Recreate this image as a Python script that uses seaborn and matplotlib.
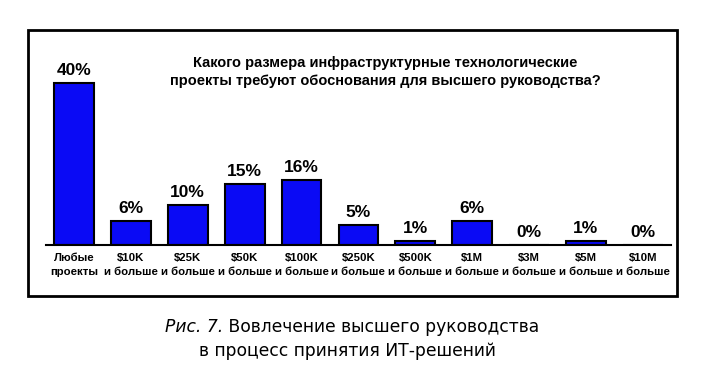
import matplotlib
matplotlib.use("Agg")
import matplotlib.pyplot as plt
import seaborn as sns
import pandas as pd
from matplotlib.patches import Rectangle

# данные с рисунка
categories = ["Любые\nпроекты", "$10K\nи больше", "$25K\nи больше", "$50K\nи больше",
              "$100K\nи больше", "$250K\nи больше", "$500K\nи больше", "$1M\nи больше",
              "$3M\nи больше", "$5M\nи больше", "$10M\nи больше"]
values = [40, 6, 10, 15, 16, 5, 1, 6, 0, 1, 0]
title_lines = ["Какого размера инфраструктурные технологические",
               "проекты требуют обоснования для высшего руководства?"]
caption_italic = "Рис. 7."
caption_rest_1 = " Вовлечение высшего руководства"
caption_line_2 = "в процесс принятия ИТ-решений"

df = pd.DataFrame({"cat": categories, "val": values})

sns.set_style("white")
plt.rcParams["font.family"] = ["Liberation Sans", "DejaVu Sans"]
plt.rcParams["text.color"] = "black"
plt.rcParams["xtick.color"] = "black"

fig = plt.figure(figsize=(7.26, 3.91), dpi=100)
ax = fig.add_axes([0.0627, 0.3734, 0.862, 0.497])

sns.barplot(data=df, x="cat", y="val", color="#0a0af5", saturation=1,
            width=0.7, edgecolor="black", linewidth=1.5, ax=ax)

ax.set_xlim(-0.5, 10.5)
ax.set_ylim(0, 48)
ax.set_xlabel("")
ax.set_ylabel("")
ax.set_yticks([])
for s in ["top", "right", "left"]:
    ax.spines[s].set_visible(False)
ax.spines["bottom"].set_linewidth(1.5)
ax.spines["bottom"].set_color("black")
ax.tick_params(axis="x", length=0, pad=6)
for lbl in ax.get_xticklabels():
    lbl.set_fontsize(8.2)
    lbl.set_fontweight("bold")
    lbl.set_color("black")
    lbl.set_linespacing(1.4)

for i, v in enumerate(values):
    ax.annotate(f"{v}%", xy=(i, v), xytext=(0, 3.5), textcoords="offset points",
                ha="center", va="bottom", fontsize=12.5, fontweight="bold")

# заголовок внутри рамки
fig.text(385 / 726, 1 - 72 / 391, "\n".join(title_lines), ha="center", va="center",
         fontsize=10.5, fontweight="bold", linespacing=1.45)

# рамка вокруг диаграммы
fig.add_artist(Rectangle((28 / 726, 1 - 296 / 391), (677 - 28) / 726, (296 - 30) / 391,
                         transform=fig.transFigure, fill=False, edgecolor="black", linewidth=2))

# подпись под рисунком
t = fig.text(165 / 726, 1 - 327 / 391, caption_italic, ha="left", va="center",
             fontsize=12.3, style="italic", family="DejaVu Sans")
ax.annotate(caption_rest_1, xy=(1, 0), xycoords=t, va="bottom", ha="left",
            fontsize=12.3, family="DejaVu Sans", annotation_clip=False)
fig.text(347 / 726, 1 - 351 / 391, caption_line_2, ha="center", va="center",
         fontsize=12.3, family="DejaVu Sans")

fig.savefig("out.png", dpi=100)
